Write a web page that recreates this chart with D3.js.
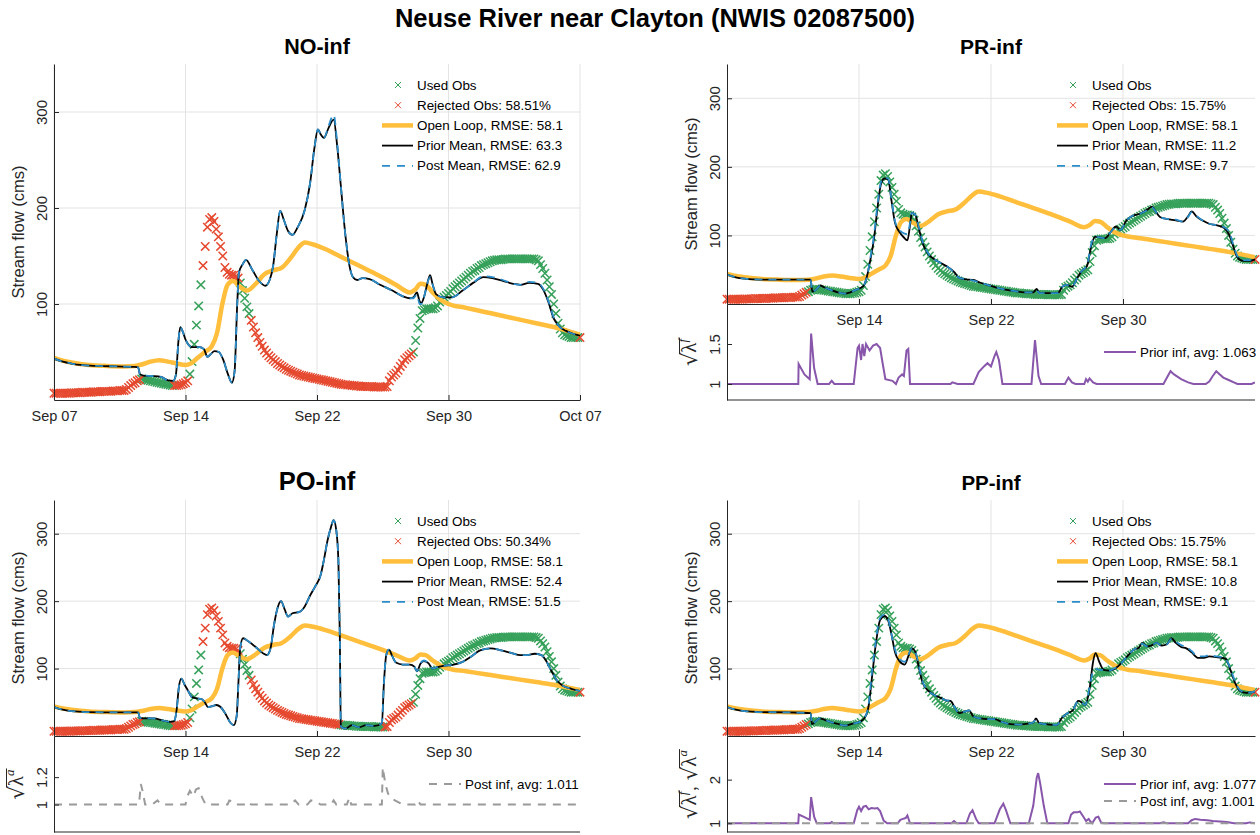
<!DOCTYPE html>
<html>
<head>
<meta charset="utf-8">
<script src="https://cdn.jsdelivr.net/npm/d3@7"></script>
<style>
  body { margin: 0; background: #fff; }
  svg { font-family: "Liberation Sans", Arial, Helvetica, sans-serif; }
</style>
</head>
<body>
<svg id="chart" width="1260" height="835"></svg>
<script>
// ---- data (time in days since Sep 07 00:00) ----
const xTickDays = [0, 7.5, 15, 22.5, 30];
const xTickLabels = ["Sep 07", "Sep 14", "Sep 22", "Sep 30", "Oct 07"];
const flowTicks = [100, 200, 300];

// observed stream flow, every 3 hours
const obsStep = 0.125;
const obsFlow = [
  7,7,7,7,7,7,7,7,
  7.5,7.5,7.5,7.5,7.5,8,8,8,
  8,8,8.5,8.5,8.5,8.5,9,9,
  9,9,9,9.5,9.5,9.5,10,10,
  10,11,13,15,17,18,20,21,
  22,21.5,21,20.5,20,19.5,19,18.5,
  18,17.5,17,16.5,16,15.5,15,15,
  15,15.5,16,17,18,20,27,40,
  58,78,98,120,140,160,180,188,
  190,186,178,170,160,150,138,133,
  131,130,130,129,127,122,114,106,
  97,90,83,76,70,65,60,56,
  52,49,46,44,42,40,38,36.5,
  35,33.5,32,31,30,29,28,27,
  26,25.5,25,24.5,24,23.5,23,22.5,
  22,21.5,21,20.5,20,19.5,19,18.5,
  18,17.5,17,16.5,16,16,15.5,15.5,
  15,15,14.5,14.5,14,14,14,14,
  14,14,13.5,13.5,13.5,13.5,13.5,13.5,
  14,20,24,26,28,31,35,38,
  42,44,46,48,50,62,75,85,
  93,94,95,95,95,95,96,98,
  102,104,107,109,111,113,116,118,
  120,122,124,126,128,130,132,134,
  135,137,138,140,141,142,143,144,
  145,145.5,146,146,146,146.5,147,147,
  147,147,147,147,147,147,147,147,
  147,147,147,147,146,145,141,137,
  132,125,118,110,100,90,80,74,
  70,68,67,66,65,65,65,65,
  65
];

// periods in which the observations were assimilated
const usedNO = [[5.0, 6.8], [7.7, 8.4], [10.6, 11.15], [20.5, 29.9]];
const usedPR = [[4.6, 29.9]];
const usedPO = [[5.0, 6.8], [7.7, 8.4], [10.6, 11.15], [16.3, 18.8], [20.5, 29.9]];
const usedPP = [[4.6, 29.9]];

const openLoop = [
  [0,44],[0.5,41],[1,39],[1.5,37.5],[2,36.5],[3,35.5],[4,35],[4.6,35.5],[5,37],[5.5,40],
  [6,41.5],[6.5,40],[7,38],[7.5,36.5],[7.8,38],[8.2,44],[8.6,50],[9,56],[9.3,70],[9.6,100],
  [9.9,120],[10.2,124],[10.6,118],[11,114],[11.5,121],[12,131],[12.5,135],[13,138],[13.5,148],
  [14,160],[14.3,164],[14.8,162],[15.5,157],[16.5,148],[17.5,139],[18.5,130],[19.5,120],
  [20.3,112],[20.6,115],[20.9,121],[21.2,120],[21.6,112],[22,105],[22.5,100],[23.5,96],
  [24.5,92],[25.5,88],[26.5,84],[27.5,80],[28.5,76],[29.3,72],[30,68]
];

// [day, prior mean, posterior mean]
const meanNO = [
  [0,43,43],[0.5,40,40],[1,38,38],[1.5,36.5,36.5],[2.5,35.5,35.5],[3.5,35,35],[4.6,34.5,34.5],
  [4.8,34,34],[4.9,27,27],[5.1,25.5,25.5],[5.6,25,25],[6.1,24,24],[6.5,20.5,20.5],[6.8,20,20],
  [6.95,26,26],[7.1,62,62],[7.2,76,76],[7.35,71,71],[7.5,63,63],[7.7,57,57],[7.9,55,55],
  [8.3,55,55],[8.55,53,53],[8.75,45,45],[8.95,48,48],[9.15,51,51],[9.4,50,50],[9.65,42,42],
  [9.9,28,28],[10.15,18,18],[10.3,30,30],[10.45,100,100],[10.55,133,133],[10.75,141,141],
  [10.95,146,146],[11.3,136,136],[11.7,124,124],[12.05,119,119],[12.3,125,125],[12.5,140,140],
  [12.7,172,172],[12.9,197,197],[13.1,188,188],[13.35,176,176],[13.6,172,172],[13.9,180,180],
  [14.3,198,198],[14.6,225,225],[14.85,262,262],[15.05,282,282],[15.2,277,277],[15.4,273,273],
  [15.65,283,285],[15.95,292,297],[16.15,265,268],[16.35,225,225],[16.6,175,175],[16.85,140,140],
  [17.05,128,128],[17.3,125,125],[17.6,127,127],[18,126,126],[18.6,120,120],[19.3,114,114],
  [19.9,108,108],[20.3,106,106],[20.5,107,106],[20.7,112,110],[20.85,103,100],[20.95,101,100],
  [21.1,107,107],[21.3,122,122],[21.45,130,128],[21.6,120,120],[21.8,110,110],[22.2,107,107],
  [22.7,107,107],[23.3,114,114],[23.9,122,122],[24.5,128,129],[25,127,128],[25.6,124,125],
  [26.2,121,121],[26.6,120,120],[27.1,122,123],[27.6,121,122],[27.9,115,116],[28.2,102,103],
  [28.5,85,86],[28.8,77,77],[29.2,72,72],[29.6,69,69],[30,67,67]
];
const meanPR = [
  [0,43,43],[0.5,39,39],[1,37,37],[1.5,36,36],[2.5,35.5,35.5],[3.5,35.5,35.5],[4.75,35.5,35.5],
  [4.85,18,18],[5.1,22,22],[5.3,27,27],[5.55,24,24],[5.85,21,21],[6.3,17,17],[6.7,15,15],
  [7,17,17],[7.35,21,21],[7.75,26,26],[7.95,40,40],[8.15,65,68],[8.35,95,100],[8.55,140,145],
  [8.75,175,178],[8.95,183,184],[9.15,182,183],[9.35,150,152],[9.55,118,120],[9.8,105,108],
  [10.05,97,103],[10.25,93,102],[10.4,115,118],[10.5,133,133],[10.7,130,130],[10.9,110,112],
  [11.1,90,92],[11.4,74,75],[11.8,65,65],[12.2,59,59],[12.6,53,53],[12.9,47,46],[13.2,38,38],
  [13.6,36,36],[14,35,34],[14.4,31,31],[14.8,28,28],[15.3,24,24],[15.8,21,21],[16.3,19,19],
  [16.9,17,17],[17.4,17,17],[17.6,22,20],[17.75,16,16],[18.3,16,16],[18.8,16,16],[19.05,25,25],
  [19.3,28,28],[19.6,25,25],[19.9,38,38],[20.15,48,48],[20.45,55,56],[20.7,85,88],[20.9,98,98],
  [21.2,97,97],[21.5,96,96],[21.8,105,105],[22.1,113,112],[22.35,108,108],[22.7,122,122],
  [23,128,128],[23.5,132,132],[23.9,138,137],[24.15,142,141],[24.35,135,135],[24.6,127,127],
  [25,124,124],[25.5,122,123],[25.9,120,120],[26.2,128,127],[26.4,135,134],[26.7,127,128],
  [27,122,122],[27.4,117,117],[27.8,115,115],[28.25,111,112],[28.55,100,104],[28.75,85,88],
  [29,68,70],[29.3,63,64],[29.7,63,64],[30,65,66]
];
const meanPO = [
  [0,43,43],[0.5,39,39],[1,37,37],[2,35.5,35.5],[3.5,35,35],[4.8,35,35],[4.9,27,27],[5.2,26,26],
  [5.7,26,26],[6.2,23,23],[6.6,21,21],[6.85,22,22],[7,40,40],[7.12,72,72],[7.26,85,85],
  [7.45,76,76],[7.65,67,67],[7.85,58,58],[8.1,56,56],[8.4,55,55],[8.6,50,50],[8.78,43,43],
  [9,44,44],[9.25,46,46],[9.5,43,43],[9.8,32,32],[10.05,20,20],[10.25,16,16],[10.42,30,30],
  [10.52,80,80],[10.62,130,130],[10.78,145,145],[11.1,140,140],[11.5,132,132],[11.9,123,123],
  [12.15,120,120],[12.35,130,130],[12.55,165,165],[12.75,190,190],[12.95,200,200],[13.15,188,188],
  [13.35,177,177],[13.6,182,182],[14,184,184],[14.3,192,192],[14.6,208,208],[14.9,222,222],
  [15.2,238,238],[15.4,262,262],[15.6,290,290],[15.8,310,310],[15.95,320,320],[16.1,305,305],
  [16.22,260,260],[16.3,150,150],[16.36,14,14],[16.6,11,11],[17,16,16],[17.4,13,13],[17.8,16,16],
  [18.3,15,15],[18.7,19,19],[18.82,80,80],[18.95,120,120],[19.1,128,128],[19.3,118,118],
  [19.5,109,109],[19.9,106,106],[20.3,106,106],[20.55,103,103],[20.7,96,96],[20.9,107,108],
  [21.1,111,112],[21.35,108,108],[21.6,100,100],[21.85,102,102],[22.2,104,104],[22.8,106,106],
  [23.3,110,110],[23.8,118,118],[24.3,127,127],[24.9,130,130],[25.5,127,127],[26.1,123,123],
  [26.6,120,120],[27,120,120],[27.4,122,122],[27.8,120,120],[28.1,110,110],[28.4,95,95],
  [28.7,82,82],[29,75,75],[29.5,70,70],[30,67,67]
];
const meanPP = [
  [0,43,43],[0.5,39,39],[1,37,37],[2,35.5,35.5],[3.5,35,35],[4.75,34,34],[4.83,17.5,17.5],
  [5.05,22,22],[5.25,26,26],[5.55,24,24],[5.85,21,21],[6.3,18,18],[6.7,15.5,15.5],[7.1,18,18],
  [7.55,21,21],[7.85,28,28],[8.05,45,48],[8.25,90,98],[8.45,135,140],[8.7,172,175],[8.95,178,180],
  [9.15,172,174],[9.35,150,150],[9.55,124,128],[9.8,111,114],[10.1,106,110],[10.3,118,120],
  [10.5,130,130],[10.7,125,125],[10.9,102,104],[11.1,80,82],[11.4,68,68],[11.7,62,62],[12.1,57,57],
  [12.45,53,53],[12.7,52,52],[12.95,42,42],[13.2,34,34],[13.5,36,36],[13.75,38,38],[14,29,29],
  [14.4,26,26],[14.8,25,25],[15.2,25,25],[15.6,21,21],[16,18,18],[16.5,17,17],[17,18,18],
  [17.4,20,20],[17.55,26,25],[17.75,19,19],[18.3,17,17],[18.75,16.5,16.5],[19,26,26],[19.3,33,33],
  [19.65,38,38],[19.95,52,52],[20.15,50,50],[20.35,46,46],[20.6,70,72],[20.8,110,96],[20.94,123,100],
  [21.15,110,98],[21.4,98,98],[21.7,97,97],[22,99,100],[22.4,108,108],[22.8,120,120],[23.1,128,128],
  [23.4,131,131],[23.6,138,137],[23.85,133,133],[24.1,134,134],[24.4,138,138],[24.7,134,134],
  [25,136,136],[25.25,145,144],[25.5,138,140],[25.8,132,135],[26.1,130,132],[26.4,124,126],
  [26.75,116,118],[27.1,116,118],[27.4,118,120],[27.8,117,118],[28.1,116,117],[28.35,114,114],
  [28.6,98,100],[28.85,80,82],[29.15,67,68],[29.5,64,64],[30,66,66]
];

// inflation factors
const priorInfPR = [
  [0,1],[4.05,1],[4.07,1.25],[4.4,1.12],[4.7,1.06],[4.78,1.63],[4.95,1.2],[5.15,1],[5.8,1],[5.95,1.04],
  [6.1,1],[7.2,1],[7.42,1.45],[7.5,1.48],[7.62,1.3],[7.7,1.5],[7.8,1.35],[7.9,1.5],[8.1,1.42],
  [8.3,1.48],[8.5,1.5],[8.7,1.45],[8.85,1.25],[9,1.06],[9.4,1.04],[9.6,1],[9.75,1.08],[9.95,1.12],
  [10.05,1.1],[10.2,1.42],[10.3,1.44],[10.4,1],[12.7,1],[12.8,1.02],[13.1,1],[14,1],[14.3,1.15],
  [14.6,1.22],[14.8,1.26],[15,1.22],[15.2,1.35],[15.3,1.4],[15.45,1.3],[15.65,1],[17.3,1],
  [17.5,1.55],[17.7,1.1],[17.85,1],[19.2,1],[19.4,1.08],[19.6,1.02],[19.8,1],[20.3,1],[20.4,1.06],
  [20.5,1.03],[20.6,1.07],[20.8,1.02],[21,1],[24.8,1],[25,1.08],[25.2,1.16],[25.4,1.12],[25.8,1.06],
  [26.2,1.02],[26.5,1],[27.2,1],[27.4,1.03],[27.6,1.1],[27.8,1.16],[28,1.12],[28.2,1.08],[28.5,1.05],
  [28.8,1.02],[29,1],[29.8,1],[30,1.02]
];
const postInfPO = [
  [0,1],[4.85,1],[4.95,1.15],[5.05,1.1],[5.2,1],[5.6,1],[5.9,1.03],[6.1,1],[7.5,1],[7.6,1.06],
  [7.75,1.1],[7.95,1.06],[8.1,1.11],[8.25,1.12],[8.45,1.05],[8.65,1],[9.9,1],[10,1.03],[10.2,1.02],
  [10.35,1],[10.9,1],[11.05,1.02],[11.25,1],[13.5,1],[13.75,1.03],[13.95,1],[14.45,1],[14.65,1.03],
  [14.95,1.02],[15.2,1],[15.8,1],[15.95,1.03],[16.1,1],[16.7,1],[16.85,1.05],[16.95,1],[18.7,1],
  [18.75,1.27],[18.9,1.15],[19.05,1.08],[19.3,1.04],[19.6,1.02],[19.9,1],[20.6,1],[20.75,1.03],
  [20.9,1],[30,1]
];
const priorInfPP = [
  [0,1],[4.05,1],[4.08,1.2],[4.4,1.14],[4.7,1.08],[4.78,1.6],[4.95,1.15],[5.1,1],[5.85,1],[5.95,1.03],
  [6.05,1],[7.2,1],[7.4,1.3],[7.5,1.38],[7.62,1.28],[7.75,1.38],[7.9,1.4],[8.05,1.32],[8.2,1.35],
  [8.4,1.34],[8.55,1.35],[8.7,1.28],[8.9,1.06],[9.1,1],[9.7,1],[9.85,1.08],[10,1.1],[10.15,1.12],
  [10.25,1.18],[10.4,1],[12.75,1],[12.9,1.05],[13.05,1],[13.6,1],[13.8,1.22],[13.95,1.3],[14.15,1.1],
  [14.3,1],[15.2,1],[15.5,1.32],[15.7,1.45],[15.85,1.3],[16.1,1],[17.15,1],[17.4,1.4],[17.6,2.05],
  [17.68,2.15],[17.8,1.9],[18,1.4],[18.2,1],[19.4,1],[19.55,1.2],[19.7,1.25],[19.9,1.25],[20.05,1.27],
  [20.25,1.15],[20.4,1.05],[20.55,1.1],[20.65,1.04],[20.75,1],[20.95,1.13],[21.1,1.15],[21.25,1.02],
  [21.4,1],[24.6,1],[24.8,1.02],[25,1],[26.2,1],[26.4,1.07],[26.6,1.1],[26.9,1.08],[27.3,1.07],
  [27.6,1.05],[28,1.04],[28.4,1.03],[28.8,1],[29.5,1],[29.7,1.02],[30,1]
];
const postInfPP = [[0,1],[4.75,1],[4.82,1.03],[4.9,1],[17.6,1],[17.7,1.02],[17.8,1],[30,1]];

const legendNO = ["Used Obs", "Rejected Obs: 58.51%", "Open Loop, RMSE: 58.1", "Prior Mean, RMSE: 63.3", "Post Mean, RMSE: 62.9"];
const legendPR = ["Used Obs", "Rejected Obs: 15.75%", "Open Loop, RMSE: 58.1", "Prior Mean, RMSE: 11.2", "Post Mean, RMSE: 9.7"];
const legendPO = ["Used Obs", "Rejected Obs: 50.34%", "Open Loop, RMSE: 58.1", "Prior Mean, RMSE: 52.4", "Post Mean, RMSE: 51.5"];
const legendPP = ["Used Obs", "Rejected Obs: 15.75%", "Open Loop, RMSE: 58.1", "Prior Mean, RMSE: 10.8", "Post Mean, RMSE: 9.1"];

const lowTicksPR = [1, 1.5], lowTicksPO = [1, 1.2], lowTicksPP = [1, 2];

// ---- styles ----
const C = {
  used: "#36a15a", rejected: "#e5492f", open: "#ffbe3c", prior: "#000000",
  post: "#2a8cc8", pinf: "#8856aa", ainf: "#9a9a9a", axis: "#262626", grid: "#e3e3e3"
};
const entryKinds = ["used", "rejected", "open", "prior", "post"];

const panels = [
  { key: "NO", title: "NO-inf", titleSize: 21.5, left: 54, right: 580, top: 64, split: 400, bottom: null,
    xTicks: [0, 1, 2, 3, 4], used: usedNO, mean: meanNO, legend: legendNO },
  { key: "PR", title: "PR-inf", titleSize: 21, left: 727, right: 1255, top: 64, split: 304, bottom: 400,
    xTicks: [1, 2, 3], used: usedPR, mean: meanPR, legend: legendPR,
    lower: { domain: [0.8, 2.0], ticks: lowTicksPR, sups: ["f"],
      series: [{ kind: "pinf", data: priorInfPR, label: "Prior inf, avg: 1.063" }] } },
  { key: "PO", title: "PO-inf", titleSize: 25.5, left: 54, right: 580, top: 500, split: 736, bottom: 832,
    xTicks: [1, 2, 3], used: usedPO, mean: meanPO, legend: legendPO,
    lower: { domain: [0.8, 1.5], ticks: lowTicksPO, sups: ["a"],
      series: [{ kind: "ainf", data: postInfPO, label: "Post inf, avg: 1.011" }] } },
  { key: "PP", title: "PP-inf", titleSize: 20.5, left: 727, right: 1255, top: 500, split: 736, bottom: 832,
    xTicks: [1, 2, 3], used: usedPP, mean: meanPP, legend: legendPP,
    lower: { domain: [0.8, 3.0], ticks: lowTicksPP, sups: ["f", "a"],
      series: [{ kind: "pinf", data: priorInfPP, label: "Prior inf, avg: 1.077" },
               { kind: "ainf", data: postInfPP, label: "Post inf, avg: 1.001" }] } }
];

const svg = d3.select("#chart");

svg.append("text")
  .attr("x", 655).attr("y", 27)
  .attr("text-anchor", "middle")
  .attr("font-size", 25.5).attr("font-weight", "bold")
  .attr("fill", "#000")
  .text("Neuse River near Clayton (NWIS 02087500)");

const obs = obsFlow.map((v, i) => ({ d: i * obsStep, v: v }));

function isUsed(d, ranges) {
  return ranges.some(r => d >= r[0] - 1e-9 && d <= r[1] + 1e-9);
}

function cross(sel, color, s, w) {
  sel.append("path")
    .attr("d", `M${-s},${-s}L${s},${s}M${-s},${s}L${s},${-s}`)
    .attr("stroke", color).attr("stroke-width", w || 1).attr("fill", "none");
}

function styleAxis(g) {
  g.attr("font-size", null).attr("font-family", null);
  g.select(".domain").attr("stroke", C.axis).attr("stroke-width", 1);
  g.selectAll(".tick line").attr("stroke", C.axis);
  g.selectAll(".tick text").attr("fill", C.axis);
}

function rotateTickText(g) {
  g.selectAll(".tick text")
    .attr("x", 0).attr("dy", "0.35em")
    .attr("text-anchor", "middle")
    .attr("font-size", 15)
    .attr("transform", "translate(-12,0) rotate(-90)");
}

// rotated sqrt(lambda) label, baseline on the right at bx
function sqrtLabel(parent, bx, cy, sups) {
  const grp = parent.append("g").attr("transform", `translate(${bx},${cy}) rotate(-90)`);
  const inner = grp.append("g");
  let xpos = 0;
  sups.forEach((sup, i) => {
    if (i > 0) {
      const c = inner.append("text").attr("x", xpos).attr("font-size", 18)
        .attr("font-family", "Liberation Serif, serif").attr("fill", C.axis).text(",");
      xpos += c.node().getComputedTextLength() + 6;
    }
    const s = inner.append("text").attr("x", xpos).attr("y", 1)
      .attr("font-size", 21).attr("font-family", "DejaVu Serif, serif").attr("fill", C.axis).text("√");
    const sw = s.node().getComputedTextLength();
    const l = inner.append("text").attr("x", xpos + sw).attr("font-size", 21)
      .attr("font-family", "Liberation Serif, serif").attr("fill", C.axis).text("λ");
    l.append("tspan").attr("font-size", 13).attr("font-style", "italic").attr("dy", -9).text(sup);
    const lw = l.node().getComputedTextLength();
    inner.append("line")
      .attr("x1", xpos + sw - 1.5).attr("x2", xpos + sw + lw + 1)
      .attr("y1", -16.5).attr("y2", -16.5)
      .attr("stroke", C.axis).attr("stroke-width", 1);
    xpos += sw + lw + 1;
  });
  inner.attr("transform", `translate(${-xpos / 2},0)`);
}

function drawPanel(p) {
  const g = svg.append("g");
  const x = d3.scaleLinear().domain([0, 30]).range([p.left, p.right]);
  const y = d3.scaleLinear().domain([0, 350]).range([p.split, p.top]);

  // title
  g.append("text")
    .attr("x", (p.left + p.right) / 2).attr("y", p.top - 10)
    .attr("text-anchor", "middle")
    .attr("font-size", p.titleSize).attr("font-weight", "bold")
    .text(p.title);

  // grid
  g.append("g").selectAll("line").data(flowTicks).join("line")
    .attr("x1", p.left).attr("x2", p.right)
    .attr("y1", d => y(d)).attr("y2", d => y(d))
    .attr("stroke", C.grid).attr("stroke-width", 1);
  g.append("g").selectAll("line").data(p.xTicks.map(i => xTickDays[i])).join("line")
    .attr("x1", d => x(d)).attr("x2", d => x(d))
    .attr("y1", p.top).attr("y2", p.split)
    .attr("stroke", C.grid).attr("stroke-width", 1);

  // observations
  const markers = g.append("g");
  const usedObs = obs.filter(o => isUsed(o.d, p.used));
  const rejObs = obs.filter(o => !isUsed(o.d, p.used));
  markers.selectAll("g.u").data(usedObs).join("g").attr("class", "u")
    .attr("transform", o => `translate(${x(o.d)},${y(o.v)})`)
    .call(sel => cross(sel, C.used, 4.2, 1.5));
  markers.selectAll("g.r").data(rejObs).join("g").attr("class", "r")
    .attr("transform", o => `translate(${x(o.d)},${y(o.v)})`)
    .call(sel => cross(sel, C.rejected, 4.2, 1.5));

  // lines
  const clipId = "clip" + p.key;
  svg.append("clipPath").attr("id", clipId).append("rect")
    .attr("x", p.left).attr("y", p.top).attr("width", p.right - p.left).attr("height", p.split - p.top);
  const lines = g.append("g").attr("clip-path", `url(#${clipId})`);
  const line = d3.line().x(d => x(d[0])).y(d => y(d[1])).curve(d3.curveMonotoneX);
  lines.append("path").attr("d", line(openLoop))
    .attr("fill", "none").attr("stroke", C.open).attr("stroke-width", 4.5);
  lines.append("path").attr("d", line(p.mean.map(r => [r[0], r[1]])))
    .attr("fill", "none").attr("stroke", C.prior).attr("stroke-width", 1.8);
  lines.append("path").attr("d", line(p.mean.map(r => [r[0], r[2]])))
    .attr("fill", "none").attr("stroke", C.post).attr("stroke-width", 1.8)
    .attr("stroke-dasharray", "8,6");

  // axes
  const yAxis = g.append("g").attr("transform", `translate(${p.left},0)`)
    .call(d3.axisLeft(y).tickValues(flowTicks).tickSizeInner(-5).tickSizeOuter(0));
  styleAxis(yAxis);
  rotateTickText(yAxis);

  const xAxis = g.append("g").attr("transform", `translate(0,${p.split})`)
    .call(d3.axisBottom(x)
      .tickValues(p.xTicks.map(i => xTickDays[i]))
      .tickFormat(d => xTickLabels[xTickDays.indexOf(d)])
      .tickSizeInner(-5).tickSizeOuter(0).tickPadding(11));
  styleAxis(xAxis);
  xAxis.selectAll(".tick text").attr("font-size", 14.5);

  g.append("text")
    .attr("transform", `translate(${p.left - 36},${(p.top + p.split) / 2}) rotate(-90)`)
    .attr("text-anchor", "middle").attr("dy", "0.35em")
    .attr("font-size", 16.5).attr("fill", C.axis)
    .text("Stream flow (cms)");

  // legend
  const lg = g.append("g");
  p.legend.forEach((label, i) => {
    const ly = p.top + 21 + i * 20.2;
    const kind = entryKinds[i];
    if (kind === "used" || kind === "rejected") {
      lg.append("g").attr("transform", `translate(${p.right - 182},${ly})`)
        .call(sel => cross(sel, C[kind], 3));
    } else {
      lg.append("line")
        .attr("x1", p.right - 198).attr("x2", p.right - 167)
        .attr("y1", ly).attr("y2", ly)
        .attr("stroke", C[kind])
        .attr("stroke-width", kind === "open" ? 4.5 : 1.8)
        .attr("stroke-dasharray", kind === "post" ? "8,7" : null);
    }
    lg.append("text")
      .attr("x", p.right - 163).attr("y", ly).attr("dy", "0.35em")
      .attr("font-size", 13.4).attr("fill", "#000")
      .text(label);
  });

  if (!p.lower) return;

  // lower inflation panel
  const lo = p.lower;
  const y2 = d3.scaleLinear().domain(lo.domain).range([p.bottom, p.split]);
  const clip2 = "clipL" + p.key;
  svg.append("clipPath").attr("id", clip2).append("rect")
    .attr("x", p.left).attr("y", p.split).attr("width", p.right - p.left).attr("height", p.bottom - p.split);
  const lgl = g.append("g").attr("clip-path", `url(#${clip2})`);
  const line2 = d3.line().x(d => x(d[0])).y(d => y2(d[1]));
  lo.series.forEach(s => {
    lgl.append("path").attr("d", line2(s.data))
      .attr("fill", "none").attr("stroke", C[s.kind]).attr("stroke-width", 2)
      .attr("stroke-dasharray", s.kind === "ainf" ? "8,7" : null);
  });

  const yAxis2 = g.append("g").attr("transform", `translate(${p.left},0)`)
    .call(d3.axisLeft(y2).tickValues(lo.ticks).tickFormat(d => String(d))
      .tickSizeInner(-5).tickSizeOuter(0));
  styleAxis(yAxis2);
  rotateTickText(yAxis2);
  g.append("line")
    .attr("x1", p.left).attr("x2", p.right)
    .attr("y1", p.bottom).attr("y2", p.bottom)
    .attr("stroke", C.axis).attr("stroke-width", 1);

  sqrtLabel(g, p.left - 31, (p.split + p.bottom) / 2, lo.sups);

  lo.series.forEach((s, i) => {
    const ly = p.split + 48 + i * 17;
    g.append("line")
      .attr("x1", p.right - 151).attr("x2", p.right - 119)
      .attr("y1", ly).attr("y2", ly)
      .attr("stroke", C[s.kind]).attr("stroke-width", 2)
      .attr("stroke-dasharray", s.kind === "ainf" ? "8,7" : null);
    g.append("text")
      .attr("x", p.right - 115).attr("y", ly).attr("dy", "0.35em")
      .attr("font-size", 13.4).attr("fill", "#000")
      .text(s.label);
  });
}

panels.forEach(drawPanel);
</script>
</body>
</html>
